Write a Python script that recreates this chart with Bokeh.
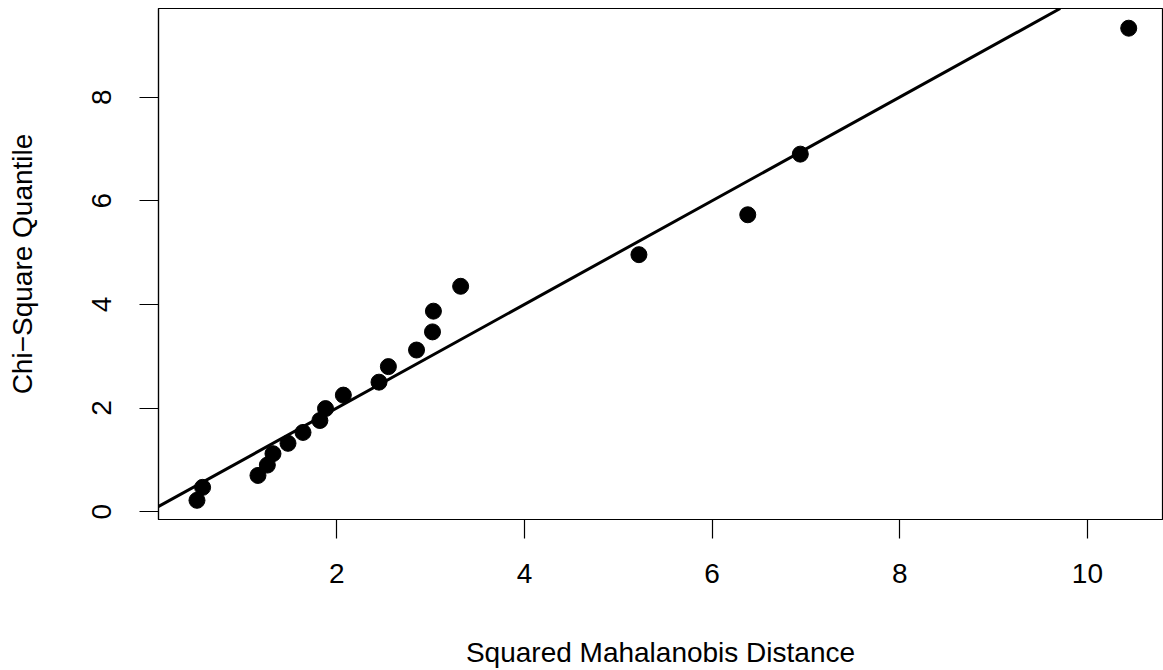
from bokeh.plotting import figure
from bokeh.models import FixedTicker, Slope, Range1d
from bokeh.embed import file_html
from bokeh.resources import INLINE

mahal_dist = [0.51, 0.57, 1.16, 1.26, 1.32, 1.48, 1.64, 1.82, 1.88, 2.07,
              2.45, 2.55, 2.85, 3.02, 3.03, 3.32, 5.22, 6.38, 6.94, 10.44]
chisq_quant = [0.22, 0.47, 0.70, 0.90, 1.12, 1.32, 1.53, 1.76, 1.99, 2.25,
               2.50, 2.80, 3.12, 3.47, 3.87, 4.35, 4.96, 5.73, 6.90, 9.33]
x_ticks = [2, 4, 6, 8, 10]
y_ticks = [0, 2, 4, 6, 8]

FONT = "Liberation Sans"
FS = "28px"

p = figure(width=1163, height=670, output_backend="svg", toolbar_location=None,
           x_range=Range1d(0.10, 10.80), y_range=Range1d(-0.15, 9.71),
           min_border_left=158, min_border_right=1, min_border_top=8,
           min_border_bottom=151)
p.xgrid.visible = False
p.ygrid.visible = False
p.background_fill_color = "white"
p.border_fill_color = "white"
p.outline_line_color = "black"
p.outline_line_width = 1.2

for ax in (p.xaxis[0], p.yaxis[0]):
    ax.axis_line_color = "black"
    ax.axis_line_width = 1.2
    ax.major_tick_in = 0
    ax.major_tick_out = 19
    ax.major_tick_line_color = "black"
    ax.major_tick_line_width = 1.2
    ax.minor_tick_line_color = None
    ax.major_label_text_font = FONT
    ax.major_label_text_font_size = FS
    ax.major_label_text_color = "black"
    ax.axis_label_text_font = FONT
    ax.axis_label_text_font_size = FS
    ax.axis_label_text_font_style = "normal"
    ax.axis_label_text_color = "black"

p.xaxis.ticker = FixedTicker(ticks=x_ticks)
p.yaxis.ticker = FixedTicker(ticks=y_ticks)
p.xaxis.axis_label = "Squared Mahalanobis Distance"
p.yaxis.axis_label = "Chi\u2212Square Quantile"
p.xaxis.major_label_standoff = 25
p.xaxis.axis_label_standoff = 51
p.yaxis.major_label_standoff = 28
p.yaxis.major_label_orientation = "vertical"
p.yaxis.axis_label_standoff = 52

p.add_layout(Slope(gradient=1, y_intercept=0, line_color="black", line_width=3))
p.scatter(mahal_dist, chisq_quant, size=16, color="black")

open("out.html", "w").write(file_html(p, INLINE))
